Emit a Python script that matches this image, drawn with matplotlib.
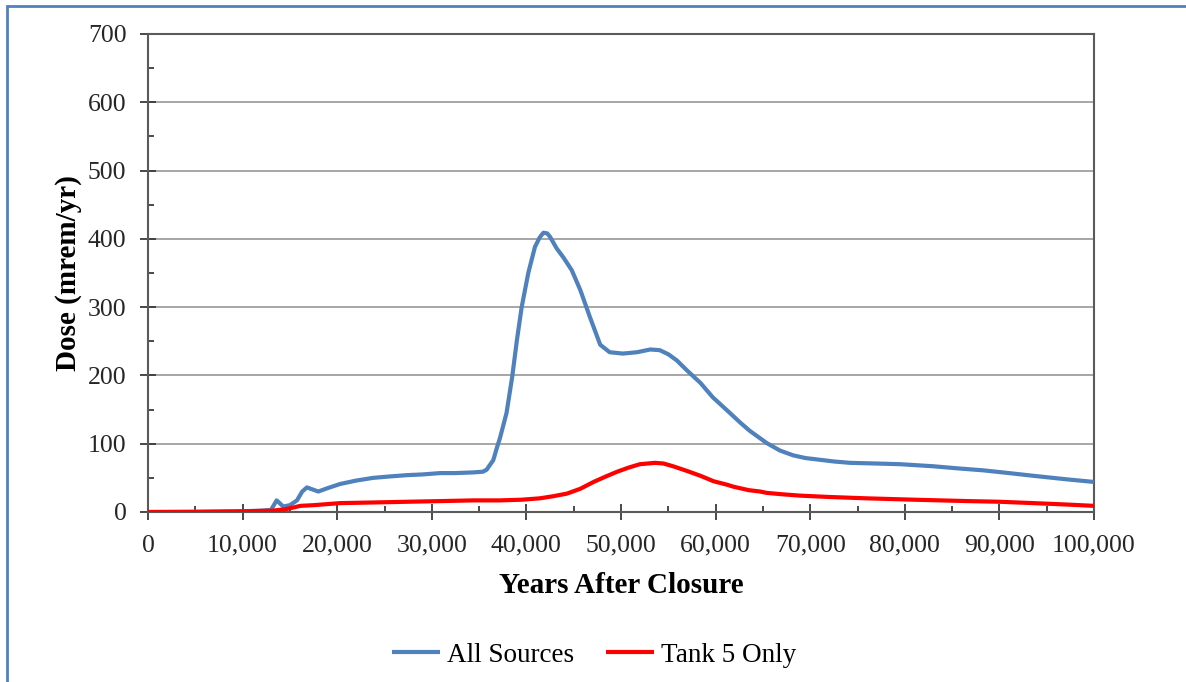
import matplotlib
matplotlib.use("Agg")
import matplotlib.pyplot as plt
from matplotlib.ticker import MultipleLocator, FuncFormatter
from matplotlib.patches import Rectangle

# ---- data ----
all_x = [0, 5000, 10000, 12000, 13000, 13600, 14300, 15000, 15750, 16300, 16800,
         17400, 18000, 19000, 20300, 22000, 23800, 25500, 27400, 29000, 30900,
         32500, 34400, 35400, 35800, 36500, 36900, 37200, 37900, 38500, 39000,
         39500, 40200, 40900, 41400, 41800, 42200, 42500, 43200, 43900, 44800,
         45700, 46700, 47800, 48800, 50200, 51700, 53100, 54100, 55000, 55900,
         57000, 58400, 59700, 61200, 62600, 63600, 65400, 66800, 68200, 69500,
         70700, 72500, 74200, 77000, 79500, 83000, 85500, 88300, 91000, 93600,
         97000, 100000]
all_y = [0, 0.5, 1, 2, 3, 17, 8, 10, 17, 30, 36,
         33, 30, 35, 41, 46, 50, 52, 54, 55, 57,
         57, 58, 59, 62, 76, 95, 108, 145, 198, 252,
         300, 350, 388, 402, 409, 408, 403, 386, 373, 354,
         325, 286, 245, 234, 232, 234, 238, 237, 231, 222,
         207, 189, 168, 149, 131, 119, 101, 90, 83, 79,
         77, 74, 72, 71, 70, 67, 64, 61, 57, 53,
         48, 44]

tank_x = [0, 5000, 10000, 13200, 14500, 15500, 16100, 17500, 20300, 24000, 27400,
          31000, 34400, 37200, 39500, 41400, 42800, 44300, 45700, 47100, 48400,
          49600, 50800, 52000, 53600, 54500, 55500, 57000, 58400, 59800, 61200,
          61900, 63500, 64700, 65400, 67000, 68900, 72000, 76000, 81000, 86600,
          90000, 93600, 97000, 100000]
tank_y = [0, 0, 1, 2, 4, 7, 9, 10, 13, 14, 15,
          16, 17, 17, 18, 20, 23, 27, 34, 44, 52,
          59, 65, 70, 72, 71, 67, 60, 53, 45, 40,
          37, 32, 30, 28, 26, 24, 22, 20, 18, 16,
          15, 13, 11, 9]

series_labels = ["All Sources", "Tank 5 Only"]
x_label = "Years After Closure"
y_label = "Dose (mrem/yr)"

plt.rcParams['font.family'] = ['Liberation Serif', 'DejaVu Serif']

fig = plt.figure(figsize=(11.86, 6.82), dpi=100)
ax = fig.add_axes([148/1186, 1-512/682, (1094-148)/1186, (512-34)/682])

ax.plot(all_x, all_y, color='#4F81BD', lw=3.0, label=series_labels[0],
        solid_joinstyle='round', solid_capstyle='butt', zorder=3)
ax.plot(tank_x, tank_y, color='#FF0000', lw=3.0, label=series_labels[1],
        solid_joinstyle='round', solid_capstyle='butt', zorder=3)

ax.set_xlim(0, 100000)
ax.set_ylim(0, 700)
ax.xaxis.set_major_locator(MultipleLocator(10000))
ax.xaxis.set_minor_locator(MultipleLocator(5000))
ax.yaxis.set_major_locator(MultipleLocator(100))
ax.yaxis.set_minor_locator(MultipleLocator(50))
ax.xaxis.set_major_formatter(FuncFormatter(lambda v, p: f"{int(v):,}"))

ax.grid(True, which='major', axis='y', color='#a6a6a6', lw=1.4, zorder=1)
for s in ax.spines.values():
    s.set_color('#5a5a5a')
    s.set_linewidth(1.5)

ax.tick_params(axis='both', which='major', direction='inout', length=11,
               width=1.3, color='#3a3a3a', labelsize=18.5, labelcolor='#262626')
ax.tick_params(axis='both', which='minor', direction='in', length=4.5,
               width=1.3, color='#3a3a3a')
ax.tick_params(axis='x', which='major', pad=11)
ax.tick_params(axis='y', which='major', pad=10)
ax.tick_params(top=False, right=False, which='both')

ax.set_xlabel(x_label, fontsize=21, fontweight='bold', labelpad=11)
ax.set_ylabel(y_label, fontsize=21, fontweight='bold', labelpad=4)

ax.legend(loc='center', bbox_to_anchor=(594/1186, 1-655/682),
          bbox_transform=fig.transFigure, ncol=2, frameon=False,
          fontsize=19.5, handlelength=1.8, columnspacing=1.15,
          handletextpad=0.25)

# outer blue frame (left and top edges visible)
fig.patches.append(Rectangle((7/1186, -0.05), 1.2, 1-6/682 + 0.05,
                             transform=fig.transFigure, fill=False,
                             edgecolor='#4F81BD', lw=2.0))

fig.savefig("out.png", dpi=100)
